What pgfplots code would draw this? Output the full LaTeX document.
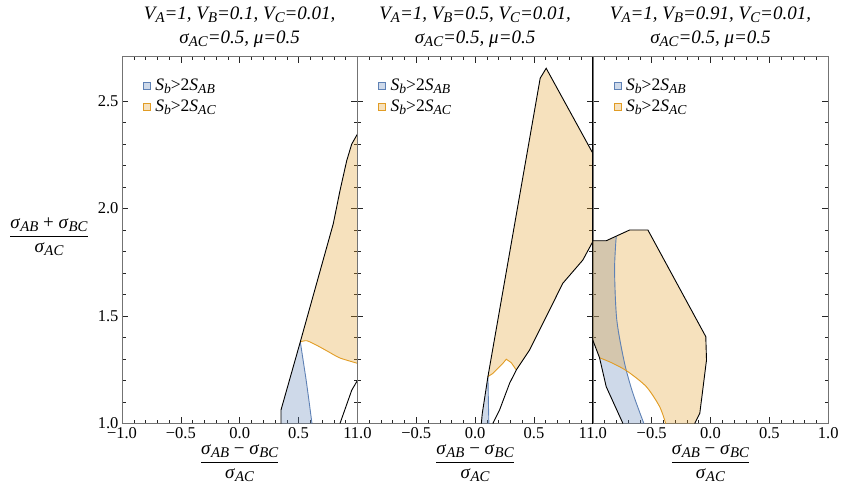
\documentclass[border=0pt]{standalone}
\usepackage{fontspec}
\setmainfont{Liberation Serif}
\usepackage{graphicx}
\usepackage{pgfplots}
\pgfplotsset{compat=1.18}
\definecolor{mblue}{HTML}{5E81B5}
\definecolor{morange}{HTML}{E19C24}

\newcommand\sub[1]{\raisebox{-0.35ex}{\scalebox{0.78}{#1}}}
\newcommand\vv[2]{\textit{#1}\sub{\textit{#2}}}
\newcommand\xfrac{$\displaystyle\frac{\mbox{\vv{σ}{AB} − \vv{σ}{BC}}}{\mbox{\vv{σ}{AC}}}$}
\newcommand\yfrac{$\displaystyle\frac{\mbox{\vv{σ}{AB} + \vv{σ}{BC}}}{\mbox{\vv{σ}{AC}}}$}

\pgfplotsset{
  panel/.style={
    scale only axis, width=235.4pt, height=366.8pt, anchor=south west,
    xmin=-1, xmax=1, ymin=1, ymax=2.706,
    xtick={-1,-0.5,0,0.5,1}, ytick={1,1.5,2,2.5},
    minor x tick num=4, minor y tick num=4,
    major tick length=6pt, minor tick length=3.5pt,
    every tick/.style={black!85, line width=0.5pt},
    axis line style={black!55, line width=0.6pt},
    tick label style={font=\fontsize{16.5}{18}\selectfont},
    title style={font=\fontsize{19}{24}\selectfont\itshape, align=center, yshift=0pt},
    xlabel={\xfrac},
    xlabel style={font=\fontsize{19}{20}\selectfont, at={(axis description cs:0.5,0)}, anchor=center, yshift=-39.5pt},
    legend style={draw=none, fill=none, at={(0.075,0.95)}, anchor=north west,
      font=\fontsize{17.5}{19}\selectfont, row sep=3.5pt, column sep=3pt},
    legend cell align=left,
    legend image code/.code={\draw[#1] (0pt,-3.5pt) rectangle (7pt,3.5pt);},
  },
  bfill/.style={fill=mblue, fill opacity=0.3, draw=none, forget plot},
  ofill/.style={fill=morange, fill opacity=0.3, draw=none, forget plot},
  kline/.style={black, line width=0.9pt, forget plot},
  bline/.style={mblue, line width=0.9pt, forget plot},
  oline/.style={morange, line width=0.9pt, forget plot},
}

\newcommand\leg{%
  \addlegendimage{fill=mblue, fill opacity=0.3, draw=mblue}
  \addlegendentry{\vv{S}{b}>2\vv{S}{AB}}
  \addlegendimage{fill=morange, fill opacity=0.3, draw=morange}
  \addlegendentry{\vv{S}{b}>2\vv{S}{AC}}}

\begin{document}
\begin{tikzpicture}
\path[use as bounding box] (-122pt,-60.5pt) rectangle (720pt,423.5pt);

% panel 1
\begin{axis}[panel, at={(0pt,0pt)},
  title={V\sub{A}=1, V\sub{B}=0.1, V\sub{C}=0.01,\\σ\sub{AC}=0.5, μ=0.5},
  xticklabels={−1.0,−0.5,0.0,0.5,},
  yticklabels={1.0,1.5,2.0,2.5},
  ylabel={\yfrac},
  ylabel style={rotate=-90, font=\fontsize{19}{20}\selectfont, at={(axis description cs:-0.31,0.509)}, anchor=center},
]
\leg
\addplot[bfill] coordinates {(0.351,1.0) (0.351,1.063) (0.515,1.38) (0.54,1.29) (0.565,1.2) (0.59,1.1) (0.614,1.0)} -- cycle;
\addplot[ofill] coordinates {(0.515,1.38) (0.795,1.929) (0.852,2.083) (0.909,2.222) (0.952,2.30) (1.0,2.346)
  (1.0,1.28) (0.85,1.305) (0.75,1.335) (0.65,1.365) (0.57,1.385)} -- cycle;
\addplot[bline, smooth, tension=0.4] coordinates {(0.515,1.38) (0.54,1.29) (0.565,1.2) (0.59,1.1) (0.614,1.0)};
\addplot[oline, smooth, tension=0.4] coordinates {(0.515,1.38) (0.57,1.385) (0.65,1.365) (0.75,1.335) (0.85,1.305) (1.0,1.28)};
\addplot[kline] coordinates {(0.351,1.0) (0.351,1.063) (0.515,1.38) (0.795,1.929) (0.852,2.083) (0.909,2.222) (0.952,2.30) (1.0,2.346)};
\addplot[kline] coordinates {(0.852,1.0) (0.952,1.155) (1.0,1.2)};
\addplot[kline, line width=1.2pt] coordinates {(1,1) (1,2.706)};
\end{axis}

% panel 2
\begin{axis}[panel, at={(235.4pt,0pt)},
  title={V\sub{A}=1, V\sub{B}=0.5, V\sub{C}=0.01,\\σ\sub{AC}=0.5, μ=0.5},
  xticklabels={11.0,−0.5,0.0,0.5,},
  yticklabels={},
]
\leg
\addplot[bfill] coordinates {(0.053,1.0) (0.061,1.047) (0.109,1.218) (0.113,1.1) (0.117,1.0)} -- cycle;
\addplot[ofill] coordinates {(0.109,1.218) (0.491,2.412) (0.553,2.606) (0.604,2.652) (1.0,2.257) (1.0,1.846)
  (0.915,1.760) (0.745,1.652) (0.590,1.481) (0.463,1.342) (0.350,1.249) (0.307,1.283) (0.265,1.299)
  (0.236,1.280) (0.151,1.233)} -- cycle;
\addplot[bline] coordinates {(0.109,1.218) (0.113,1.1) (0.117,1.0)};
\addplot[oline] coordinates {(0.109,1.218) (0.151,1.233) (0.236,1.280) (0.265,1.299) (0.307,1.283) (0.350,1.249)};
\addplot[kline] coordinates {(0.053,1.0) (0.061,1.047) (0.109,1.218) (0.491,2.412) (0.553,2.606) (0.604,2.652) (1.0,2.257)};
\addplot[kline] coordinates {(1.0,1.846) (0.915,1.760) (0.745,1.652) (0.590,1.481) (0.463,1.342) (0.350,1.249)
  (0.293,1.187) (0.208,1.063) (0.151,1.0)};
\addplot[kline, line width=1.2pt] coordinates {(1,1) (1,2.706)};
\end{axis}

% panel 3
\begin{axis}[panel, at={(470.8pt,0pt)},
  title={V\sub{A}=1, V\sub{B}=0.91, V\sub{C}=0.01,\\σ\sub{AC}=0.5, μ=0.5},
  xticklabels={11.0,−0.5,0.0,0.5,1.0},
  yticklabels={},
]
\leg
\addplot[bfill] coordinates {(-1,1.85) (-0.886,1.85) (-0.801,1.869) (-0.815,1.714) (-0.796,1.481) (-0.730,1.280)
  (-0.659,1.140) (-0.566,1.0) (-0.744,1.0) (-0.886,1.171) (-0.943,1.306) (-1,1.388)} -- cycle;
\addplot[ofill] coordinates {(-1,1.85) (-0.886,1.85) (-0.687,1.90) (-0.532,1.90) (-0.040,1.404) (-0.034,1.295)
  (-0.091,1.047) (-0.134,1.0) (-0.381,1.0) (-0.432,1.078) (-0.545,1.171) (-0.702,1.241) (-0.830,1.280)
  (-0.943,1.306) (-1,1.388)} -- cycle;
\addplot[bline, smooth, tension=0.5] coordinates {(-0.801,1.869) (-0.815,1.714) (-0.796,1.481) (-0.730,1.280) (-0.659,1.140) (-0.566,1.0)};
\addplot[oline, smooth, tension=0.5] coordinates {(-0.943,1.306) (-0.830,1.280) (-0.702,1.241) (-0.545,1.171) (-0.432,1.078) (-0.381,1.0)};
\addplot[kline] coordinates {(-1,1.85) (-0.886,1.85) (-0.687,1.90) (-0.532,1.90) (-0.040,1.404) (-0.034,1.295)
  (-0.091,1.047) (-0.134,1.0)};
\addplot[kline] coordinates {(-1,1.388) (-0.943,1.306) (-0.886,1.171) (-0.744,1.0)};
\addplot[kline, line width=1.2pt] coordinates {(-1,1) (-1,2.706)};
\end{axis}
\end{tikzpicture}
\end{document}
